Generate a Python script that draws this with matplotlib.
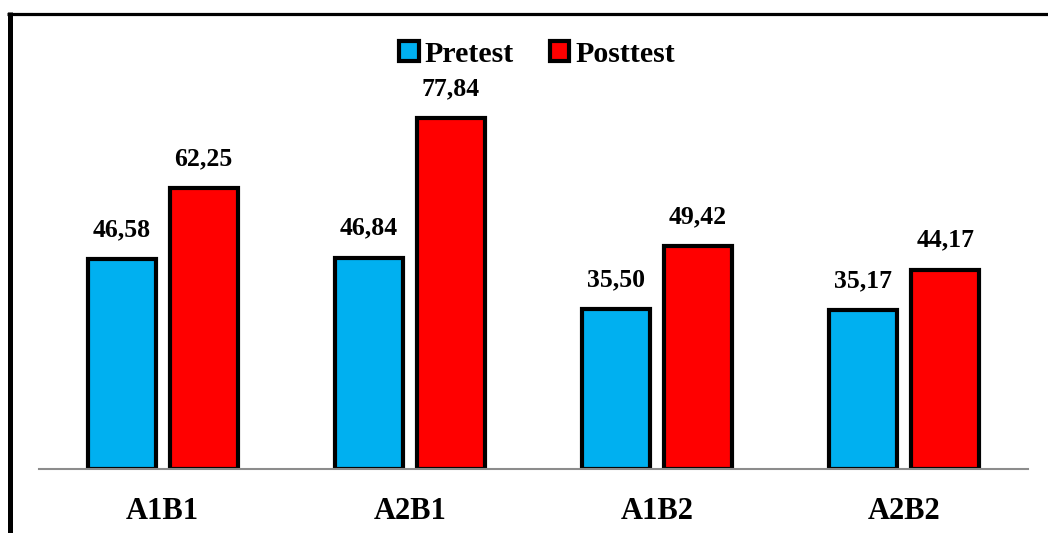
import matplotlib
matplotlib.use("Agg")
import matplotlib.pyplot as plt
import numpy as np
from matplotlib.lines import Line2D
from matplotlib.patches import Patch

groups = ["A1B1", "A2B1", "A1B2", "A2B2"]
pretest = [46.58, 46.84, 35.50, 35.17]
posttest = [62.25, 77.84, 49.42, 44.17]
series_names = ["Pretest", "Posttest"]
colors = ["#00B0F0", "#FF0000"]

plt.rcParams["font.family"] = ["Liberation Serif", "DejaVu Serif"]
plt.rcParams["font.weight"] = "bold"

W, H = 1048, 533
fig = plt.figure(figsize=(W / 100, H / 100), dpi=100)

ax = fig.add_axes([39 / W, 1 - 469 / H, (1028 - 39) / W, (469 - 18) / H])

x = np.arange(len(groups))
bw = 0.275
off = 0.166
for vals, sign, col in [(pretest, -1, colors[0]), (posttest, 1, colors[1])]:
    bars = ax.bar(x + sign * off, vals, width=bw, color=col,
                  edgecolor="black", linewidth=3.0, zorder=3)
    for b, v in zip(bars, vals):
        ax.annotate(f"{v:.2f}".replace(".", ","),
                    (b.get_x() + b.get_width() / 2, v),
                    xytext=(0, 13), textcoords="offset points",
                    ha="center", va="bottom", fontsize=18.5, fontweight="bold")

ax.set_xlim(-0.5, len(groups) - 0.5)
ax.set_ylim(0, 100)
ax.set_xticks(x)
ax.set_xticklabels(groups, fontsize=22, fontweight="bold")
ax.tick_params(axis="x", length=0, pad=20)
ax.set_yticks([])
for s in ["top", "left", "right"]:
    ax.spines[s].set_visible(False)
ax.spines["bottom"].set_color("#8c8c8c")
ax.spines["bottom"].set_linewidth(1.5)
ax.spines["bottom"].set_zorder(4)

handles = [Patch(facecolor=c, edgecolor="black", linewidth=3.0) for c in colors]
fig.legend(handles, series_names, loc="center", bbox_to_anchor=(537 / W, 1 - 54 / H),
           ncol=2, frameon=False, prop={"size": 21.5, "weight": "bold"},
           handlelength=0.65, handleheight=0.65, handletextpad=0.2, columnspacing=1.2)

# outer frame (left and top edges)
fig.add_artist(Line2D([9.5 / W, 9.5 / W], [0, 1 - 12 / H], color="black",
                      linewidth=3.6, transform=fig.transFigure, solid_capstyle="butt"))
fig.add_artist(Line2D([7 / W, 1.0], [1 - 13.5 / H, 1 - 13.5 / H], color="black",
                      linewidth=2.3, transform=fig.transFigure, solid_capstyle="butt"))

fig.savefig("out.png", dpi=100)
